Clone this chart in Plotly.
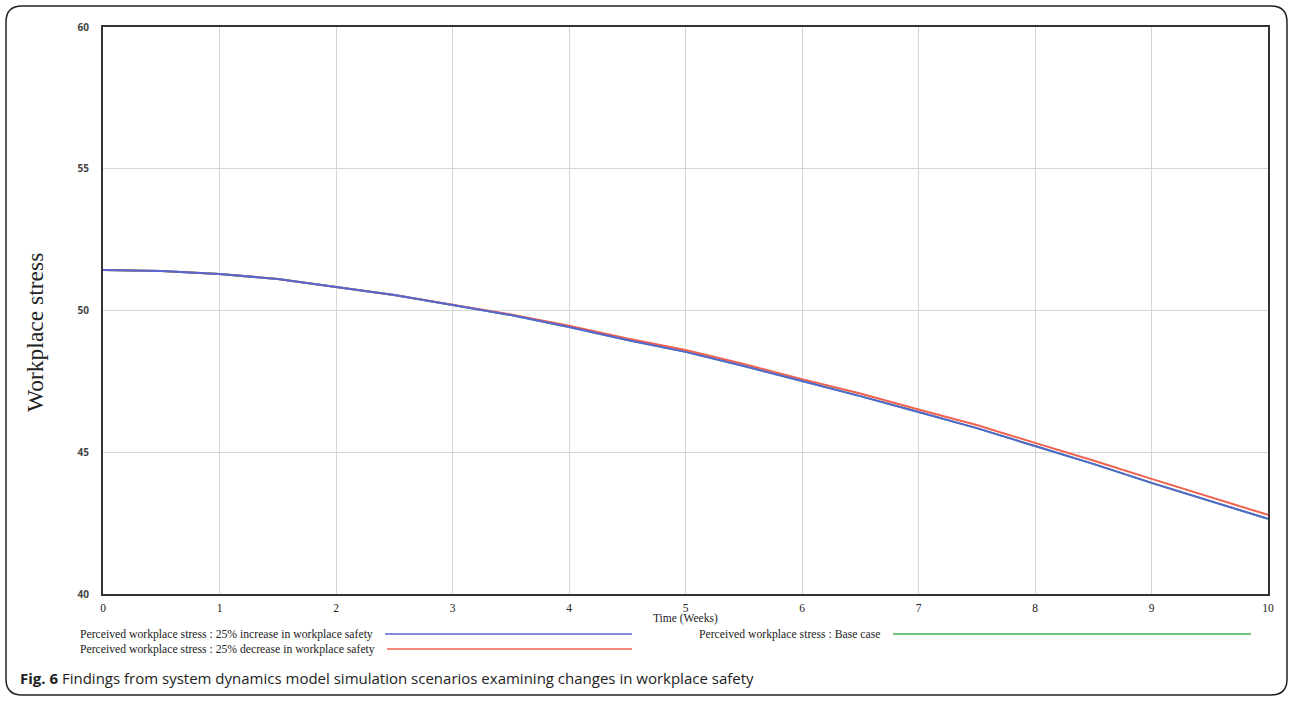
import plotly.graph_objects as go

# ---- data ----
weeks = [0, 0.5, 1, 1.5, 2, 2.5, 3, 3.5, 4, 4.5, 5, 5.5, 6, 6.5, 7, 7.5, 8, 8.5, 9, 9.5, 10]
stress_increase_safety = [51.43, 51.39, 51.29, 51.11, 50.83, 50.55, 50.19, 49.84, 49.42, 48.96, 48.54,
                          48.04, 47.51, 46.98, 46.42, 45.85, 45.22, 44.59, 43.92, 43.28, 42.65]
stress_decrease_safety = [51.43, 51.39, 51.29, 51.11, 50.83, 50.55, 50.20, 49.86, 49.46, 49.01, 48.61,
                          48.11, 47.58, 47.07, 46.51, 45.96, 45.33, 44.71, 44.06, 43.42, 42.79]
stress_base_case = [51.43, 51.39, 51.29, 51.11, 50.83, 50.55, 50.19, 49.84, 49.42, 48.96, 48.54,
                    48.04, 47.51, 46.98, 46.42, 45.85, 45.22, 44.59, 43.92, 43.28, 42.65]
x_ticks = [0, 1, 2, 3, 4, 5, 6, 7, 8, 9, 10]
y_ticks = [40, 45, 50, 55, 60]

names = ["Perceived workplace stress : 25% increase in workplace safety",
         "Perceived workplace stress : 25% decrease in workplace safety",
         "Perceived workplace stress : Base case"]
colors = ["#5566d4", "#f0604c", "#3fb24f"]

W, H = 1292, 701
L, R, T, B = 103, 24, 27, 107
PW, PH = W - L - R, H - T - B


def px(x):
    return (x - L) / PW


def py(y):
    return (H - B - y) / PH


fig = go.Figure()
fig.add_trace(go.Scatter(x=weeks, y=stress_base_case, mode="lines", name=names[2],
                         line=dict(color=colors[2], width=2)))
fig.add_trace(go.Scatter(x=weeks, y=stress_decrease_safety, mode="lines", name=names[1],
                         line=dict(color=colors[1], width=2)))
fig.add_trace(go.Scatter(x=weeks, y=stress_increase_safety, mode="lines", name=names[0],
                         line=dict(color=colors[0], width=2)))

serif = "Liberation Serif"

fig.update_layout(
    width=W, height=H,
    margin=dict(l=L, r=R, t=T, b=B),
    paper_bgcolor="white", plot_bgcolor="white",
    showlegend=False,
    xaxis=dict(range=[0, 10], tickvals=x_ticks, showgrid=True, gridcolor="#d6d6d6", gridwidth=1,
               zeroline=False, showline=True, linecolor="#333", linewidth=2, mirror=True,
               tickfont=dict(family=serif, size=11.5, color="#222"), ticks="", ticklabelstandoff=2),
    yaxis=dict(range=[40, 60], tickvals=y_ticks, showgrid=True, gridcolor="#d6d6d6", gridwidth=1,
               zeroline=False, showline=True, linecolor="#333", linewidth=2, mirror=True,
               tickfont=dict(family="Open Sans", size=10, color="#444", weight="bold"), ticks="",
               ticklabelstandoff=10),
)

annotations = [
    dict(text="Time (Weeks)", x=px(685), y=py(618), xref="paper", yref="paper", showarrow=False,
         font=dict(family=serif, size=11.5, color="#222"), xanchor="center", yanchor="middle"),
    dict(text="Workplace stress", x=px(35), y=py(333), xref="paper", yref="paper", showarrow=False,
         textangle=-90, font=dict(family=serif, size=23.5, color="#222"),
         xanchor="center", yanchor="middle"),
    dict(text="<b>Fig. 6</b> Findings from system dynamics model simulation scenarios examining changes in workplace safety",
         x=px(18), y=py(678), xref="paper", yref="paper", showarrow=False,
         font=dict(family="Open Sans", size=15, color="#222"), xanchor="left", yanchor="middle"),
]

legend_rows = [
    (names[0], 78, 634, 385, 632, colors[0]),
    (names[1], 78, 649, 387, 632, colors[1]),
    (names[2], 697, 634, 893, 1251, colors[2]),
]
shapes = []
for txt, tx, ty, lx0, lx1, c in legend_rows:
    annotations.append(dict(text=txt, x=px(tx), y=py(ty), xref="paper", yref="paper", showarrow=False,
                            font=dict(family=serif, size=11.7, color="#222"),
                            xanchor="left", yanchor="middle"))
    shapes.append(dict(type="line", xref="paper", yref="paper", x0=px(lx0), x1=px(lx1),
                       y0=py(ty), y1=py(ty), line=dict(color=c, width=1.5)))

# rounded outer frame
x0, x1, y0, y1, r = 6, 1287, 6, 695, 16
pts = (f"M {px(x0 + r)},{py(y0)} L {px(x1 - r)},{py(y0)} Q {px(x1)},{py(y0)} {px(x1)},{py(y0 + r)} "
       f"L {px(x1)},{py(y1 - r)} Q {px(x1)},{py(y1)} {px(x1 - r)},{py(y1)} "
       f"L {px(x0 + r)},{py(y1)} Q {px(x0)},{py(y1)} {px(x0)},{py(y1 - r)} "
       f"L {px(x0)},{py(y0 + r)} Q {px(x0)},{py(y0)} {px(x0 + r)},{py(y0)} Z")
shapes.append(dict(type="path", path=pts, xref="paper", yref="paper",
                   line=dict(color="#222", width=1.5)))

fig.update_layout(annotations=annotations, shapes=shapes)
fig.write_html("out.html", config={"displayModeBar": False},
               post_script="document.body.style.margin='0';document.body.style.overflow='hidden';")
